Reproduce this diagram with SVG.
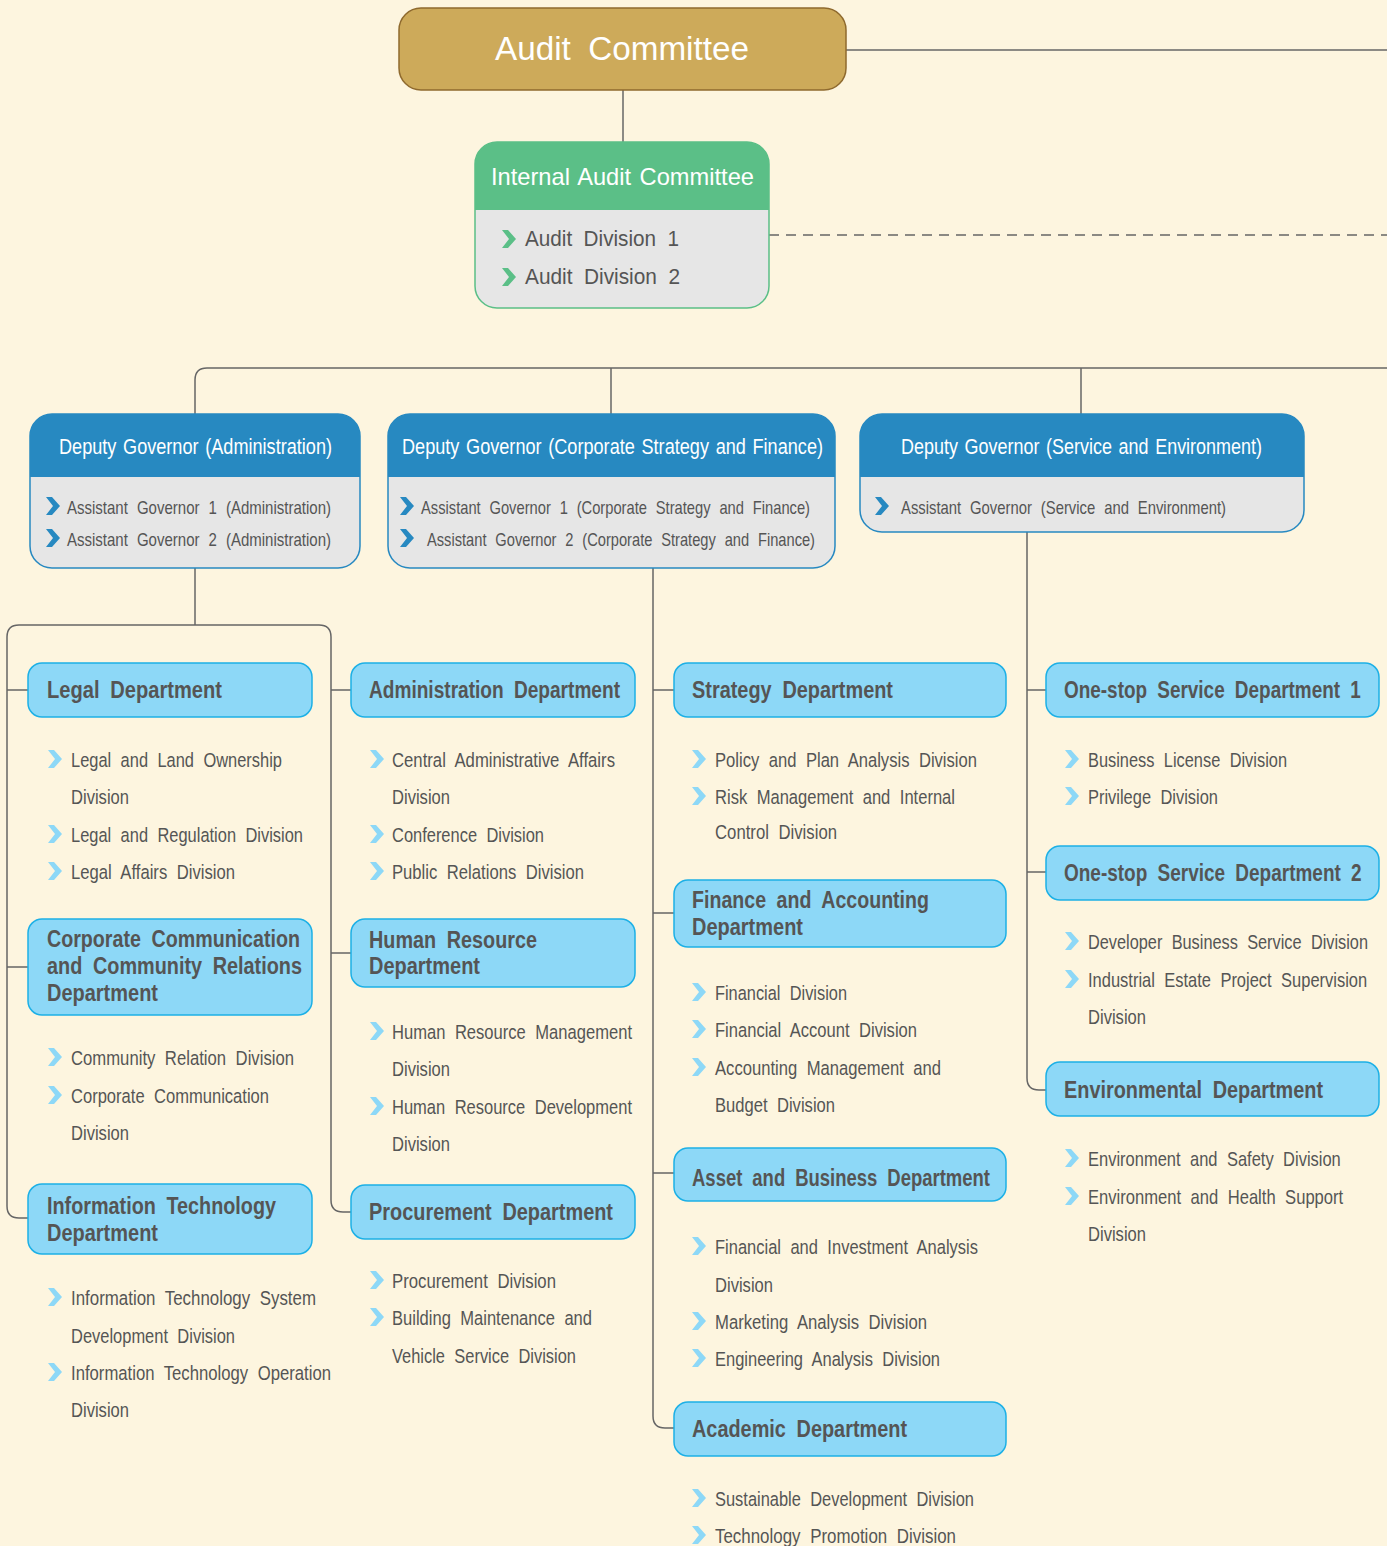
<svg xmlns="http://www.w3.org/2000/svg" xmlns:xlink="http://www.w3.org/1999/xlink" width="1387" height="1546" viewBox="0 0 1387 1546">
<style>
.ln{stroke:#666;stroke-width:1.5;fill:none}
.dash{stroke:#666;stroke-width:1.5;fill:none;stroke-dasharray:10 7}
.dept{fill:#8dd8f7;stroke:#1cb0e6;stroke-width:1.5}
.dt{font-family:"Liberation Sans",Arial,sans-serif;font-weight:bold;font-size:23px;fill:#555;word-spacing:6px}
.it{font-family:"Liberation Sans",Arial,sans-serif;font-size:20.5px;fill:#555;word-spacing:6px}
.dg{font-family:"Liberation Sans",Arial,sans-serif;font-size:22px;fill:#fff;word-spacing:2px}
.dgi{font-family:"Liberation Sans",Arial,sans-serif;font-size:18.5px;fill:#555;word-spacing:6px}
.lb{fill:#8dd8f7}
.db{fill:#2789c1}
.gr{fill:#5bbf87}
</style>
<defs>
<path id="chev" d="M0,-9 L6,-9 L14,0 L6,9 L0,9 L7,0 Z"/>
</defs>
<rect width="1387" height="1546" fill="#fdf5df"/>

<g id="connectors">
<path class="ln" d="M846,50 H1387"/>
<path class="ln" d="M623,90 V142"/>
<path class="dash" d="M769,235 H1387"/>
<path class="ln" d="M195,414 V380 Q195,368 207,368 H1387"/>
<path class="ln" d="M611,368 V414"/>
<path class="ln" d="M1081,368 V414"/>
<path class="ln" d="M195,568 V625"/>
<path class="ln" d="M195,625 H19 Q7,625 7,637 V1206 Q7,1218 19,1218 H28"/>
<path class="ln" d="M7,690 H28 M7,967 H28"/>
<path class="ln" d="M195,625 H319 Q331,625 331,637 V1200 Q331,1212 343,1212 H351"/>
<path class="ln" d="M331,690 H351 M331,953 H351"/>
<path class="ln" d="M653,568 V1416 Q653,1428 665,1428 H674"/>
<path class="ln" d="M653,690 H674 M653,913 H674 M653,1173 H674"/>
<path class="ln" d="M1027,532 V1078 Q1027,1090 1039,1090 H1046"/>
<path class="ln" d="M1027,690 H1046 M1027,872 H1046"/>
</g>

<g id="audit-committee">
<rect x="399" y="8" width="447" height="82" rx="22" fill="#cdaa5a" stroke="#8f6a2e" stroke-width="1.5"/>
<text x="495" y="60" font-family="Liberation Sans, Arial, sans-serif" font-size="33" fill="#fff" word-spacing="8" textLength="254" lengthAdjust="spacingAndGlyphs">Audit Committee</text>
</g>

<g id="internal-audit-committee">
<rect x="475" y="142" width="294" height="166" rx="22" fill="#e6e6e6" stroke="#5bbf87" stroke-width="1.5"/>
<path d="M475,210 V164 A22,22 0 0 1 497,142 H747 A22,22 0 0 1 769,164 V210 Z" fill="#5bbf87"/>
<text x="491" y="185" font-family="Liberation Sans, Arial, sans-serif" font-size="24" fill="#fff" word-spacing="2" textLength="263" lengthAdjust="spacingAndGlyphs">Internal Audit Committee</text>
<use xlink:href="#chev" x="502" y="239" class="gr"/>
<use xlink:href="#chev" x="502" y="277" class="gr"/>
<text x="525" y="246" font-family="Liberation Sans, Arial, sans-serif" font-size="22" fill="#555" word-spacing="6" textLength="154" lengthAdjust="spacingAndGlyphs">Audit Division 1</text>
<text x="525" y="284" font-family="Liberation Sans, Arial, sans-serif" font-size="22" fill="#555" word-spacing="6" textLength="155" lengthAdjust="spacingAndGlyphs">Audit Division 2</text>
</g>

<g id="dg-administration">
<rect x="30" y="414" width="330" height="154" rx="22" fill="#e6e6e6" stroke="#2789c1" stroke-width="1.5"/>
<path d="M30,477 V436 A22,22 0 0 1 52,414 H338 A22,22 0 0 1 360,436 V477 Z" fill="#2789c1"/>
<text class="dg" x="59" y="454" textLength="273" lengthAdjust="spacingAndGlyphs">Deputy Governor (Administration)</text>
<use xlink:href="#chev" x="46" y="506" class="db"/>
<use xlink:href="#chev" x="46" y="538" class="db"/>
<text class="dgi" x="67" y="514" textLength="264" lengthAdjust="spacingAndGlyphs">Assistant Governor 1 (Administration)</text>
<text class="dgi" x="67" y="546" textLength="264" lengthAdjust="spacingAndGlyphs">Assistant Governor 2 (Administration)</text>
</g>

<g id="dg-strategy-finance">
<rect x="388" y="414" width="447" height="154" rx="22" fill="#e6e6e6" stroke="#2789c1" stroke-width="1.5"/>
<path d="M388,477 V436 A22,22 0 0 1 410,414 H813 A22,22 0 0 1 835,436 V477 Z" fill="#2789c1"/>
<text class="dg" x="402" y="454" textLength="421" lengthAdjust="spacingAndGlyphs">Deputy Governor (Corporate Strategy and Finance)</text>
<use xlink:href="#chev" x="400" y="506" class="db"/>
<use xlink:href="#chev" x="400" y="538" class="db"/>
<text class="dgi" x="421" y="514" textLength="389" lengthAdjust="spacingAndGlyphs">Assistant Governor 1 (Corporate Strategy and Finance)</text>
<text class="dgi" x="427" y="546" textLength="388" lengthAdjust="spacingAndGlyphs">Assistant Governor 2 (Corporate Strategy and Finance)</text>
</g>

<g id="dg-service-environment">
<rect x="860" y="414" width="444" height="118" rx="22" fill="#e6e6e6" stroke="#2789c1" stroke-width="1.5"/>
<path d="M860,477 V436 A22,22 0 0 1 882,414 H1282 A22,22 0 0 1 1304,436 V477 Z" fill="#2789c1"/>
<text class="dg" x="901" y="454" textLength="361" lengthAdjust="spacingAndGlyphs">Deputy Governor (Service and Environment)</text>
<use xlink:href="#chev" x="875" y="506" class="db"/>
<text class="dgi" x="901" y="514" textLength="325" lengthAdjust="spacingAndGlyphs">Assistant Governor (Service and Environment)</text>
</g>

<!-- Column 1 -->
<g id="legal-department">
<rect class="dept" x="28" y="663" width="284" height="54" rx="14"/>
<text class="dt" x="47" y="698" textLength="175" lengthAdjust="spacingAndGlyphs">Legal Department</text>
<use xlink:href="#chev" x="48" y="759" class="lb"/>
<use xlink:href="#chev" x="48" y="834" class="lb"/>
<use xlink:href="#chev" x="48" y="871" class="lb"/>
<text class="it" x="71" y="767" textLength="211" lengthAdjust="spacingAndGlyphs">Legal and Land Ownership</text>
<text class="it" x="71" y="804" textLength="58" lengthAdjust="spacingAndGlyphs">Division</text>
<text class="it" x="71" y="842" textLength="232" lengthAdjust="spacingAndGlyphs">Legal and Regulation Division</text>
<text class="it" x="71" y="879" textLength="164" lengthAdjust="spacingAndGlyphs">Legal Affairs Division</text>
</g>

<g id="corporate-communication-department">
<rect class="dept" x="28" y="919" width="284" height="96" rx="14"/>
<text class="dt" x="47" y="947" textLength="253" lengthAdjust="spacingAndGlyphs">Corporate Communication</text>
<text class="dt" x="47" y="974" textLength="255" lengthAdjust="spacingAndGlyphs">and Community Relations</text>
<text class="dt" x="47" y="1001" textLength="111" lengthAdjust="spacingAndGlyphs">Department</text>
<use xlink:href="#chev" x="48" y="1057" class="lb"/>
<use xlink:href="#chev" x="48" y="1095" class="lb"/>
<text class="it" x="71" y="1065" textLength="223" lengthAdjust="spacingAndGlyphs">Community Relation Division</text>
<text class="it" x="71" y="1103" textLength="198" lengthAdjust="spacingAndGlyphs">Corporate Communication</text>
<text class="it" x="71" y="1140" textLength="58" lengthAdjust="spacingAndGlyphs">Division</text>
</g>

<g id="it-department">
<rect class="dept" x="28" y="1184" width="284" height="70" rx="14"/>
<text class="dt" x="47" y="1214" textLength="229" lengthAdjust="spacingAndGlyphs">Information Technology</text>
<text class="dt" x="47" y="1241" textLength="111" lengthAdjust="spacingAndGlyphs">Department</text>
<use xlink:href="#chev" x="48" y="1297" class="lb"/>
<use xlink:href="#chev" x="48" y="1372" class="lb"/>
<text class="it" x="71" y="1305" textLength="245" lengthAdjust="spacingAndGlyphs">Information Technology System</text>
<text class="it" x="71" y="1343" textLength="164" lengthAdjust="spacingAndGlyphs">Development Division</text>
<text class="it" x="71" y="1380" textLength="260" lengthAdjust="spacingAndGlyphs">Information Technology Operation</text>
<text class="it" x="71" y="1417" textLength="58" lengthAdjust="spacingAndGlyphs">Division</text>
</g>

<!-- Column 2 -->
<g id="administration-department">
<rect class="dept" x="351" y="663" width="284" height="54" rx="14"/>
<text class="dt" x="369" y="698" textLength="251" lengthAdjust="spacingAndGlyphs">Administration Department</text>
<use xlink:href="#chev" x="370" y="759" class="lb"/>
<use xlink:href="#chev" x="370" y="834" class="lb"/>
<use xlink:href="#chev" x="370" y="871" class="lb"/>
<text class="it" x="392" y="767" textLength="223" lengthAdjust="spacingAndGlyphs">Central Administrative Affairs</text>
<text class="it" x="392" y="804" textLength="58" lengthAdjust="spacingAndGlyphs">Division</text>
<text class="it" x="392" y="842" textLength="152" lengthAdjust="spacingAndGlyphs">Conference Division</text>
<text class="it" x="392" y="879" textLength="192" lengthAdjust="spacingAndGlyphs">Public Relations Division</text>
</g>

<g id="hr-department">
<rect class="dept" x="351" y="919" width="284" height="68" rx="14"/>
<text class="dt" x="369" y="948" textLength="168" lengthAdjust="spacingAndGlyphs">Human Resource</text>
<text class="dt" x="369" y="974" textLength="111" lengthAdjust="spacingAndGlyphs">Department</text>
<use xlink:href="#chev" x="370" y="1031" class="lb"/>
<use xlink:href="#chev" x="370" y="1106" class="lb"/>
<text class="it" x="392" y="1039" textLength="240" lengthAdjust="spacingAndGlyphs">Human Resource Management</text>
<text class="it" x="392" y="1076" textLength="58" lengthAdjust="spacingAndGlyphs">Division</text>
<text class="it" x="392" y="1114" textLength="240" lengthAdjust="spacingAndGlyphs">Human Resource Development</text>
<text class="it" x="392" y="1151" textLength="58" lengthAdjust="spacingAndGlyphs">Division</text>
</g>

<g id="procurement-department">
<rect class="dept" x="351" y="1185" width="284" height="54" rx="14"/>
<text class="dt" x="369" y="1220" textLength="244" lengthAdjust="spacingAndGlyphs">Procurement Department</text>
<use xlink:href="#chev" x="370" y="1280" class="lb"/>
<use xlink:href="#chev" x="370" y="1317" class="lb"/>
<text class="it" x="392" y="1288" textLength="164" lengthAdjust="spacingAndGlyphs">Procurement Division</text>
<text class="it" x="392" y="1325" textLength="200" lengthAdjust="spacingAndGlyphs">Building Maintenance and</text>
<text class="it" x="392" y="1363" textLength="184" lengthAdjust="spacingAndGlyphs">Vehicle Service Division</text>
</g>

<!-- Column 3 -->
<g id="strategy-department">
<rect class="dept" x="674" y="663" width="332" height="54" rx="14"/>
<text class="dt" x="692" y="698" textLength="201" lengthAdjust="spacingAndGlyphs">Strategy Department</text>
<use xlink:href="#chev" x="692" y="759" class="lb"/>
<use xlink:href="#chev" x="692" y="796" class="lb"/>
<text class="it" x="715" y="767" textLength="262" lengthAdjust="spacingAndGlyphs">Policy and Plan Analysis Division</text>
<text class="it" x="715" y="804" textLength="240" lengthAdjust="spacingAndGlyphs">Risk Management and Internal</text>
<text class="it" x="715" y="839" textLength="122" lengthAdjust="spacingAndGlyphs">Control Division</text>
</g>

<g id="finance-accounting-department">
<rect class="dept" x="674" y="880" width="332" height="67" rx="14"/>
<text class="dt" x="692" y="908" textLength="237" lengthAdjust="spacingAndGlyphs">Finance and Accounting</text>
<text class="dt" x="692" y="935" textLength="111" lengthAdjust="spacingAndGlyphs">Department</text>
<use xlink:href="#chev" x="692" y="992" class="lb"/>
<use xlink:href="#chev" x="692" y="1029" class="lb"/>
<use xlink:href="#chev" x="692" y="1067" class="lb"/>
<text class="it" x="715" y="1000" textLength="132" lengthAdjust="spacingAndGlyphs">Financial Division</text>
<text class="it" x="715" y="1037" textLength="202" lengthAdjust="spacingAndGlyphs">Financial Account Division</text>
<text class="it" x="715" y="1075" textLength="226" lengthAdjust="spacingAndGlyphs">Accounting Management and</text>
<text class="it" x="715" y="1112" textLength="120" lengthAdjust="spacingAndGlyphs">Budget Division</text>
</g>

<g id="asset-business-department">
<rect class="dept" x="674" y="1148" width="332" height="53" rx="14"/>
<text class="dt" x="692" y="1186" textLength="298" lengthAdjust="spacingAndGlyphs">Asset and Business Department</text>
<use xlink:href="#chev" x="692" y="1246" class="lb"/>
<use xlink:href="#chev" x="692" y="1321" class="lb"/>
<use xlink:href="#chev" x="692" y="1358" class="lb"/>
<text class="it" x="715" y="1254" textLength="263" lengthAdjust="spacingAndGlyphs">Financial and Investment Analysis</text>
<text class="it" x="715" y="1292" textLength="58" lengthAdjust="spacingAndGlyphs">Division</text>
<text class="it" x="715" y="1329" textLength="212" lengthAdjust="spacingAndGlyphs">Marketing Analysis Division</text>
<text class="it" x="715" y="1366" textLength="225" lengthAdjust="spacingAndGlyphs">Engineering Analysis Division</text>
</g>

<g id="academic-department">
<rect class="dept" x="674" y="1402" width="332" height="54" rx="14"/>
<text class="dt" x="692" y="1437" textLength="215" lengthAdjust="spacingAndGlyphs">Academic Department</text>
<use xlink:href="#chev" x="692" y="1498" class="lb"/>
<use xlink:href="#chev" x="692" y="1535" class="lb"/>
<text class="it" x="715" y="1506" textLength="259" lengthAdjust="spacingAndGlyphs">Sustainable Development Division</text>
<text class="it" x="715" y="1543" textLength="241" lengthAdjust="spacingAndGlyphs">Technology Promotion Division</text>
</g>

<!-- Column 4 -->
<g id="one-stop-service-1">
<rect class="dept" x="1046" y="663" width="333" height="54" rx="14"/>
<text class="dt" transform="translate(1064,698) scale(0.8,1)" x="0" y="0" textLength="371" lengthAdjust="spacingAndGlyphs">One-stop Service Department 1</text>
<use xlink:href="#chev" x="1065" y="759" class="lb"/>
<use xlink:href="#chev" x="1065" y="796" class="lb"/>
<text class="it" x="1088" y="767" textLength="199" lengthAdjust="spacingAndGlyphs">Business License Division</text>
<text class="it" x="1088" y="804" textLength="130" lengthAdjust="spacingAndGlyphs">Privilege Division</text>
</g>

<g id="one-stop-service-2">
<rect class="dept" x="1046" y="846" width="333" height="54" rx="14"/>
<text class="dt" transform="translate(1064,881) scale(0.8,1)" x="0" y="0" textLength="372" lengthAdjust="spacingAndGlyphs">One-stop Service Department 2</text>
<use xlink:href="#chev" x="1065" y="941" class="lb"/>
<use xlink:href="#chev" x="1065" y="979" class="lb"/>
<text class="it" transform="translate(1088,949) scale(0.8,1)" x="0" y="0" textLength="350" lengthAdjust="spacingAndGlyphs">Developer Business Service Division</text>
<text class="it" transform="translate(1088,987) scale(0.8,1)" x="0" y="0" textLength="349" lengthAdjust="spacingAndGlyphs">Industrial Estate Project Supervision</text>
<text class="it" x="1088" y="1024" textLength="58" lengthAdjust="spacingAndGlyphs">Division</text>
</g>

<g id="environmental-department">
<rect class="dept" x="1046" y="1062" width="333" height="54" rx="14"/>
<text class="dt" x="1064" y="1098" textLength="259" lengthAdjust="spacingAndGlyphs">Environmental Department</text>
<use xlink:href="#chev" x="1065" y="1158" class="lb"/>
<use xlink:href="#chev" x="1065" y="1196" class="lb"/>
<text class="it" transform="translate(1088,1166) scale(0.8,1)" x="0" y="0" textLength="316" lengthAdjust="spacingAndGlyphs">Environment and Safety Division</text>
<text class="it" transform="translate(1088,1204) scale(0.8,1)" x="0" y="0" textLength="319" lengthAdjust="spacingAndGlyphs">Environment and Health Support</text>
<text class="it" x="1088" y="1241" textLength="58" lengthAdjust="spacingAndGlyphs">Division</text>
</g>
</svg>
